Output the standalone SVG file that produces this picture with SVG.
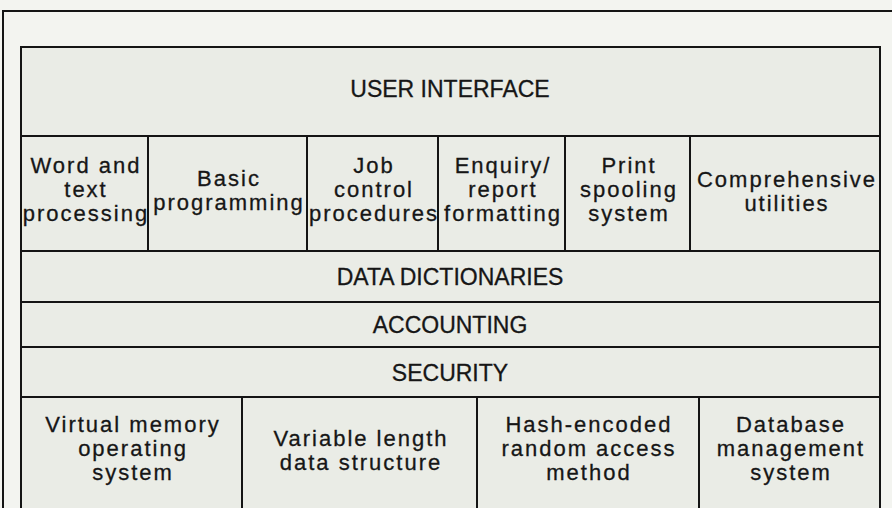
<svg xmlns="http://www.w3.org/2000/svg" width="892" height="508" viewBox="0 0 892 508">
<style>
.cell{fill:#eaece6;stroke:#141414;stroke-width:2}
.t{font-family:"Liberation Sans",Arial,sans-serif;font-size:22px;fill:#161616;stroke:#161616;stroke-width:0.3px;text-anchor:middle;letter-spacing:2px}
.h{font-family:"Liberation Sans",Arial,sans-serif;font-size:23px;fill:#161616;stroke:#161616;stroke-width:0.3px;text-anchor:middle}
.frame{fill:none;stroke:#141414;stroke-width:2}
</style>
<rect x="0" y="0" width="892" height="508" fill="#f3f4f0"/>
<path class="frame" d="M3,508 V11 H892"/>
<g id="user-interface"><rect class="cell" x="21" y="47" width="859" height="89"/><text class="h" x="450" y="97">USER INTERFACE</text></g>
<g id="word-text"><rect class="cell" x="21" y="136" width="127" height="115"/><text class="t"><tspan x="86" y="173">Word and</tspan><tspan x="86" y="197">text</tspan><tspan x="86" y="221">processing</tspan></text></g>
<g id="basic"><rect class="cell" x="148" y="136" width="159" height="115"/><text class="t"><tspan x="229" y="186">Basic</tspan><tspan x="229" y="210">programming</tspan></text></g>
<g id="job-control"><rect class="cell" x="307" y="136" width="131" height="115"/><text class="t"><tspan x="374" y="173">Job</tspan><tspan x="374" y="197">control</tspan><tspan x="374" y="221">procedures</tspan></text></g>
<g id="enquiry"><rect class="cell" x="438" y="136" width="127" height="115"/><text class="t"><tspan x="503" y="173">Enquiry/</tspan><tspan x="503" y="197">report</tspan><tspan x="503" y="221">formatting</tspan></text></g>
<g id="print-spooling"><rect class="cell" x="565" y="136" width="125" height="115"/><text class="t"><tspan x="629" y="173">Print</tspan><tspan x="629" y="197">spooling</tspan><tspan x="629" y="221">system</tspan></text></g>
<g id="utilities"><rect class="cell" x="690" y="136" width="190" height="115"/><text class="t"><tspan x="787" y="187">Comprehensive</tspan><tspan x="787" y="211">utilities</tspan></text></g>
<g id="data-dictionaries"><rect class="cell" x="21" y="251" width="859" height="51"/><text class="h" x="450" y="285">DATA DICTIONARIES</text></g>
<g id="accounting"><rect class="cell" x="21" y="302" width="859" height="45"/><text class="h" x="450" y="333">ACCOUNTING</text></g>
<g id="security"><rect class="cell" x="21" y="347" width="859" height="50"/><text class="h" x="450" y="381">SECURITY</text></g>
<g id="virtual-memory"><rect class="cell" x="21" y="397" width="221" height="120"/><text class="t"><tspan x="133" y="432">Virtual memory</tspan><tspan x="133" y="456">operating</tspan><tspan x="133" y="480">system</tspan></text></g>
<g id="variable-length"><rect class="cell" x="242" y="397" width="235" height="120"/><text class="t"><tspan x="361" y="446">Variable length</tspan><tspan x="361" y="470">data structure</tspan></text></g>
<g id="hash-encoded"><rect class="cell" x="477" y="397" width="222" height="120"/><text class="t"><tspan x="589" y="432">Hash-encoded</tspan><tspan x="589" y="456">random access</tspan><tspan x="589" y="480">method</tspan></text></g>
<g id="dbms"><rect class="cell" x="699" y="397" width="181" height="120"/><text class="t"><tspan x="791" y="432">Database</tspan><tspan x="791" y="456">management</tspan><tspan x="791" y="480">system</tspan></text></g>
<g id="connectors"></g>
</svg>
